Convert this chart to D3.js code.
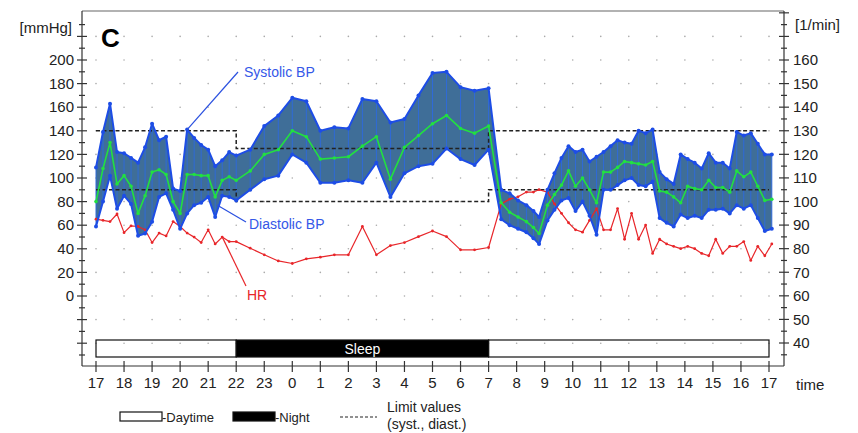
<!DOCTYPE html>
<html>
<head>
<meta charset="utf-8">
<script src="https://cdn.jsdelivr.net/npm/d3@7"></script>
<style>
  body { margin: 0; background: #fff; }
  text { font-family: 'Liberation Sans', Arial, sans-serif; }
</style>
</head>
<body>
<script>
// hours after 17:00
const times = [
  0, 0.25, 0.5, 0.75, 1, 1.25, 1.5, 1.75, 2, 2.25, 2.5, 2.75, 3, 3.25, 3.5, 3.75, 4, 4.25, 4.5, 4.75, 5,
  5.5, 6, 6.5, 7, 7.5, 8, 8.5, 9, 9.5, 10, 10.5, 11, 11.5, 12, 12.5, 13, 13.5, 14,
  14.45, 14.75, 15.05, 15.35, 15.6, 15.8,
  16.1, 16.35, 16.6, 16.85, 17.1, 17.35, 17.6, 17.85, 18.1, 18.35, 18.6, 18.85, 19.1, 19.35, 19.6, 19.85,
  20.1, 20.35, 20.6, 20.85, 21.1, 21.35, 21.6, 21.85, 22.1, 22.35, 22.6, 22.85, 23.1, 23.35, 23.6, 23.85, 24.1
];
const systolic = [
  109, 139, 163, 122, 121, 117, 113, 126, 146, 132, 135, 91, 89, 141, 134, 128, 124, 110, 115, 122, 119,
  124, 144, 153, 168, 165, 140, 143, 142, 167, 165, 147, 150, 170, 189, 190, 177, 174, 176,
  90, 87, 81, 77, 72, 67,
  90, 104, 117, 127, 122, 124, 114, 118, 122, 127, 132, 130, 129, 140, 138, 141,
  105, 99, 95, 120, 116, 113, 108, 121, 113, 113, 108, 139, 136, 138, 129, 120, 120
];
const diastolic = [
  59, 80, 102, 74, 85, 78, 51, 53, 63, 84, 87, 73, 57, 70, 77, 79, 84, 67, 85, 84, 81,
  90, 99, 102, 120, 113, 96, 96, 98, 96, 113, 84, 104, 110, 112, 125, 116, 111, 124,
  65, 60, 57, 54, 49, 44,
  64, 73, 81, 83, 72, 80, 68, 52, 90, 90, 94, 98, 100, 94, 93, 97,
  66, 62, 59, 69, 66, 68, 66, 73, 73, 74, 70, 77, 74, 77, 66, 55, 57
];
const meanBP = [
  80, 108, 130, 95, 102, 93, 70, 85, 105, 107, 103, 80, 70, 103, 103, 102, 102, 84, 98, 101, 98,
  106, 120, 124, 140, 135, 116, 117, 118, 127, 135, 99, 126, 136, 146, 153, 142, 138, 144,
  79, 71, 67, 63, 58, 53,
  77, 86, 94, 106, 93, 100, 90, 79, 105, 105, 109, 114, 113, 112, 111, 114,
  89, 88, 84, 79, 93, 91, 90, 98, 92, 92, 88, 106, 101, 105, 93, 81, 82
];
const heartRate = [
  92.5, 92, 91.5, 94.7, 86.8, 89.7, 89.4, 88, 82.6, 86.6, 85.4, 91.5, 89.4, 86.6, 84.9, 82.6, 88, 82, 84.9, 83, 83,
  80.2, 77.4, 74.8, 73.7, 75.7, 76.4, 77.4, 77.4, 89.4, 77.4, 81.3, 82.6, 85.1, 87.5, 85.1, 79.5, 79.5, 80.5,
  99, 101, 102, 104, 104, 105,
  104, 99, 95, 91, 88, 87, 92, 97, 88, 88, 97, 84, 95, 84, 90, 78,
  84, 82, 81, 80, 81, 80, 78, 77, 84, 78, 81, 81, 83, 75, 81, 77, 82
];

const hourLabels = [17, 18, 19, 20, 21, 22, 23, 0, 1, 2, 3, 4, 5, 6, 7, 8, 9, 10, 11, 12, 13, 14, 15, 16, 17];
const leftLabels = [0, 20, 40, 60, 80, 100, 120, 140, 160, 180, 200];
const rightLabels = [40, 50, 60, 70, 80, 90, 100, 110, 120, 130, 140, 150, 160];

// limit values, step changes at 22:00 and 7:00
const limitTimes = [0, 5, 14, 24];
const sysLimit = [140, 125, 140, 140];
const diaLimit = [90, 80, 90, 90];

// day / night phases
const phaseStart = [0, 5, 14];
const phaseEnd = [5, 14, 24];
const phaseNight = [false, true, false];

const svg = d3.select('body').append('svg')
  .attr('width', 858)
  .attr('height', 433);

const x = d3.scaleLinear().domain([0, 24]).range([96, 769]);
const yL = d3.scaleLinear().domain([0, 200]).range([296, 60]);
const yR = d3.scaleLinear().domain([40, 160]).range([343, 60]);

const frameLeft = 82, frameRight = 784, frameTop = 11, frameBottom = 366;

const data = times.map((t, i) => ({
  t, s: systolic[i], d: diastolic[i], m: meanBP[i], hr: heartRate[i]
}));

// grid dots
const dots = svg.append('g');
d3.range(0, 25).forEach(h => {
  d3.range(-40, 221, 20).forEach(v => {
    dots.append('circle')
      .attr('cx', x(h)).attr('cy', yL(v)).attr('r', 0.8)
      .attr('fill', '#aaa');
  });
});

// frame
svg.append('line')
  .attr('x1', frameLeft).attr('x2', frameRight)
  .attr('y1', frameTop).attr('y2', frameTop)
  .attr('stroke', '#999').attr('stroke-width', 1.5);
svg.append('line')
  .attr('x1', frameLeft).attr('x2', frameRight)
  .attr('y1', frameBottom).attr('y2', frameBottom)
  .attr('stroke', '#333').attr('stroke-width', 1.2);
[frameLeft, frameRight].forEach(px => {
  svg.append('line')
    .attr('x1', px).attr('x2', px)
    .attr('y1', frameTop).attr('y2', frameBottom)
    .attr('stroke', '#333').attr('stroke-width', 1.2);
});

// left axis ticks
d3.range(-50, 231, 10).forEach(v => {
  const major = v % 20 === 0;
  svg.append('line')
    .attr('x1', major ? frameLeft - 5 : frameLeft - 3)
    .attr('x2', major ? frameLeft + 5 : frameLeft + 3)
    .attr('y1', yL(v)).attr('y2', yL(v))
    .attr('stroke', '#333').attr('stroke-width', 1.2);
});
svg.append('g').selectAll('text')
  .data(leftLabels).enter().append('text')
  .attr('x', 74).attr('y', d => yL(d)).attr('dy', '0.35em')
  .attr('text-anchor', 'end').attr('font-size', 15).attr('fill', '#222')
  .text(d => d);
svg.append('text')
  .attr('x', 72).attr('y', 28).attr('dy', '0.35em')
  .attr('text-anchor', 'end').attr('font-size', 15).attr('fill', '#222')
  .text('[mmHg]');

// right axis ticks
d3.range(35, 181, 5).forEach(v => {
  const major = v % 10 === 0;
  svg.append('line')
    .attr('x1', major ? frameRight - 5 : frameRight - 3)
    .attr('x2', major ? frameRight + 5 : frameRight + 3)
    .attr('y1', yR(v)).attr('y2', yR(v))
    .attr('stroke', '#333').attr('stroke-width', 1.2);
});
svg.append('g').selectAll('text')
  .data(rightLabels).enter().append('text')
  .attr('x', 793).attr('y', d => yR(d)).attr('dy', '0.35em')
  .attr('font-size', 15).attr('fill', '#222')
  .text(d => d);
svg.append('text')
  .attr('x', 795).attr('y', 25).attr('dy', '0.35em')
  .attr('font-size', 15).attr('fill', '#222')
  .text('[1/min]');

// x axis ticks
hourLabels.forEach((lab, i) => {
  svg.append('line')
    .attr('x1', x(i)).attr('x2', x(i))
    .attr('y1', frameBottom - 5).attr('y2', frameBottom + 6)
    .attr('stroke', '#333').attr('stroke-width', 1.2);
  svg.append('text')
    .attr('x', x(i)).attr('y', 388)
    .attr('text-anchor', 'middle').attr('font-size', 15).attr('fill', '#222')
    .text(lab);
});
svg.append('text')
  .attr('x', 796).attr('y', 390)
  .attr('font-size', 15).attr('fill', '#222')
  .text('time');

// sleep bar
const bar = svg.append('g');
phaseStart.forEach((s, i) => {
  bar.append('rect')
    .attr('x', x(s)).attr('y', 340)
    .attr('width', x(phaseEnd[i]) - x(s)).attr('height', 17)
    .attr('fill', phaseNight[i] ? '#000' : 'none')
    .attr('stroke', '#111').attr('stroke-width', 1.2);
});
bar.append('text')
  .attr('x', (x(5) + x(14)) / 2).attr('y', 349).attr('dy', '0.35em')
  .attr('text-anchor', 'middle').attr('font-size', 14).attr('fill', '#fff')
  .text('Sleep');

// BP band
const area = d3.area()
  .x(d => x(d.t))
  .y0(d => yL(d.d))
  .y1(d => yL(d.s));
svg.append('path')
  .datum(data)
  .attr('d', area)
  .attr('fill', '#3f6e98');

svg.append('g').selectAll('line')
  .data(data).enter().append('line')
  .attr('x1', d => x(d.t)).attr('x2', d => x(d.t))
  .attr('y1', d => yL(d.s)).attr('y2', d => yL(d.d))
  .attr('stroke', '#2f6ad8').attr('stroke-width', 1);

// limit values
const stepLine = d3.line().curve(d3.curveStepAfter);
[sysLimit, diaLimit].forEach(lim => {
  svg.append('path')
    .attr('d', stepLine(limitTimes.map((t, i) => [x(t), yL(lim[i])])))
    .attr('fill', 'none')
    .attr('stroke', '#222').attr('stroke-width', 1.5)
    .attr('stroke-dasharray', '4,2.5');
});

// series lines
function drawSeries(key, scale, color, width, r) {
  const line = d3.line().x(d => x(d.t)).y(d => scale(d[key]));
  svg.append('path')
    .datum(data)
    .attr('d', line)
    .attr('fill', 'none')
    .attr('stroke', color).attr('stroke-width', width)
    .attr('stroke-linejoin', 'round');
  svg.append('g').selectAll('circle')
    .data(data).enter().append('circle')
    .attr('cx', d => x(d.t)).attr('cy', d => scale(d[key]))
    .attr('r', r).attr('fill', color);
}
drawSeries('hr', yR, '#e8262a', 1.2, 1.4);
drawSeries('s', yL, '#1d4de6', 2, 2);
drawSeries('d', yL, '#1d4de6', 2, 2);
drawSeries('m', yL, '#22e040', 1.6, 1.8);

// annotations
svg.append('line')
  .attr('x1', 238).attr('y1', 72).attr('x2', x(3.25)).attr('y2', yL(141))
  .attr('stroke', '#2a50e0').attr('stroke-width', 1.2);
svg.append('text')
  .attr('x', 244).attr('y', 72).attr('dy', '0.35em')
  .attr('font-size', 14).attr('fill', '#3558e8')
  .text('Systolic BP');

svg.append('line')
  .attr('x1', 246).attr('y1', 222).attr('x2', 217).attr('y2', 205)
  .attr('stroke', '#2a50e0').attr('stroke-width', 1.2);
svg.append('text')
  .attr('x', 249).attr('y', 224).attr('dy', '0.35em')
  .attr('font-size', 14).attr('fill', '#3558e8')
  .text('Diastolic BP');

svg.append('line')
  .attr('x1', 246).attr('y1', 286).attr('x2', x(4.5)).attr('y2', yR(85))
  .attr('stroke', '#e8262a').attr('stroke-width', 1.2);
svg.append('text')
  .attr('x', 247).attr('y', 295).attr('dy', '0.35em')
  .attr('font-size', 14).attr('fill', '#e8262a')
  .text('HR');

svg.append('text')
  .attr('x', 101).attr('y', 47)
  .attr('font-size', 26).attr('font-weight', 'bold').attr('fill', '#000')
  .text('C');

// legend
const lg = svg.append('g');
lg.append('rect').attr('x', 120).attr('y', 412).attr('width', 42).attr('height', 9)
  .attr('fill', '#fff').attr('stroke', '#111').attr('stroke-width', 1.2);
lg.append('text').attr('x', 162).attr('y', 417).attr('dy', '0.35em')
  .attr('font-size', 13).attr('fill', '#222').text('-Daytime');
lg.append('rect').attr('x', 233).attr('y', 412).attr('width', 42).attr('height', 9)
  .attr('fill', '#000').attr('stroke', '#111').attr('stroke-width', 1.2);
lg.append('text').attr('x', 275).attr('y', 417).attr('dy', '0.35em')
  .attr('font-size', 13).attr('fill', '#222').text('-Night');
lg.append('line').attr('x1', 340).attr('x2', 377).attr('y1', 417).attr('y2', 417)
  .attr('stroke', '#222').attr('stroke-width', 1.2).attr('stroke-dasharray', '3,2');
lg.append('text').attr('x', 387).attr('y', 407).attr('dy', '0.35em')
  .attr('font-size', 14).attr('fill', '#222').text('Limit values');
lg.append('text').attr('x', 387).attr('y', 424).attr('dy', '0.35em')
  .attr('font-size', 14).attr('fill', '#222').text('(syst., diast.)');
</script>
</body>
</html>
